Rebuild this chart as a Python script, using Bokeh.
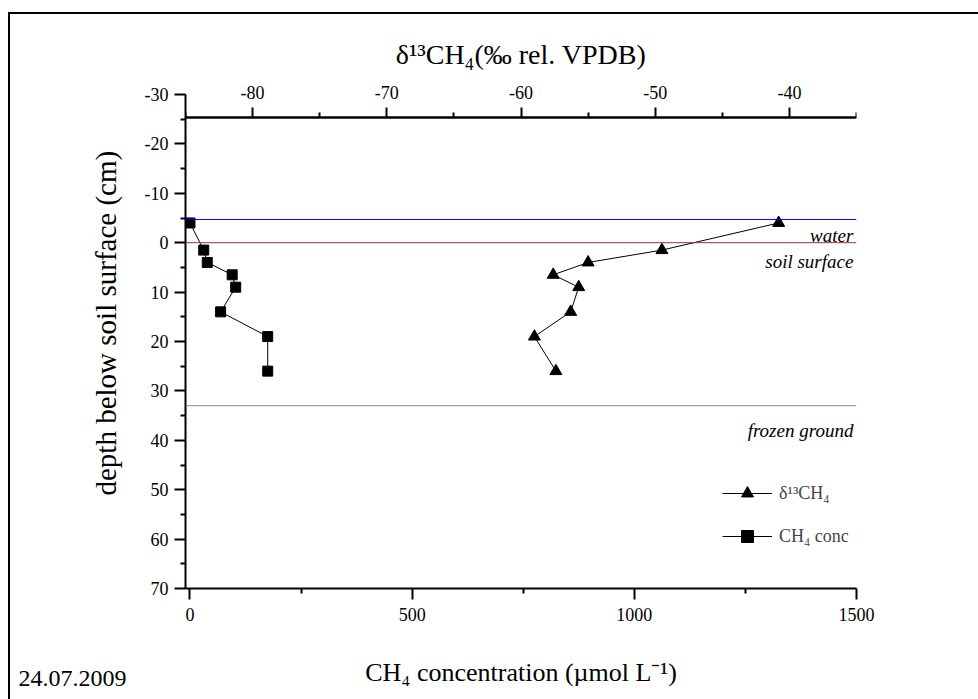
from bokeh.plotting import figure
from bokeh.models import (Range1d, LinearAxis, FixedTicker, Span, Label, Legend,
                          LegendItem, Title)
from bokeh.embed import file_html
from bokeh.resources import INLINE

# ---- data ----
depth_cm = [-4, 1.5, 4, 6.5, 9, 14, 19, 26]
ch4_conc = [0, 31, 39, 95, 103, 69, 175, 175]          # umol L-1
d13c_ch4 = [-40.8, -49.5, -55.0, -57.6, -55.7, -56.3, -59.0, -57.4]  # permil VPDB

water_level = -4.7
soil_surface = 0
frozen_ground = 33

conc_ticks = [0, 500, 1000, 1500]
conc_minor = [250, 750, 1250]
d13c_ticks = [-80, -70, -60, -50, -40]
d13c_minor = [-85, -75, -65, -55, -45, -35]
depth_ticks = [-30, -20, -10, 0, 10, 20, 30, 40, 50, 60, 70]
depth_minor = [-25, -15, -5, 5, 15, 25, 35, 45, 55, 65]

FONT = "Liberation Serif"
FONT_STACK = "'Liberation Serif', 'DejaVu Serif', serif"

p = figure(width=970, height=691, output_backend="svg", toolbar_location=None,
           x_range=Range1d(-10, 1500), y_range=Range1d(70, -30),
           min_border_left=185, min_border_right=114, min_border_top=94,
           min_border_bottom=103, background_fill_color="white",
           border_fill_color="white")
p.outline_line_color = None
p.xgrid.visible = False
p.ygrid.visible = False
p.extra_x_ranges = {"d13c": Range1d(-85, -35)}
p.stylesheets = [
    ":host { overflow: visible !important; }"
    ":host::after { content: ''; position: absolute; left: 8px; top: 12px;"
    " right: -8px; bottom: -8px; border-left: 2px solid #000;"
    " border-top: 2px solid #000; pointer-events: none; z-index: 10; }"
]


def style_axis(ax, major_out, minor_out):
    ax.axis_line_width = 2
    ax.axis_line_color = "black"
    ax.major_tick_line_width = 2
    ax.minor_tick_line_width = 2
    ax.major_tick_line_color = "black"
    ax.minor_tick_line_color = "black"
    ax.major_tick_out = major_out
    ax.major_tick_in = 0
    ax.minor_tick_out = minor_out
    ax.minor_tick_in = 0
    ax.major_label_text_font = FONT
    ax.major_label_text_font_size = "18px"
    ax.major_label_text_color = "black"
    ax.axis_label_text_font = FONT
    ax.axis_label_text_font_size = "26px"
    ax.axis_label_text_font_style = "normal"
    ax.axis_label_text_color = "black"


# bottom axis: CH4 concentration
xb = p.xaxis[0]
xb.ticker = FixedTicker(ticks=conc_ticks, minor_ticks=conc_minor)
style_axis(xb, 11, 5)
xb.major_label_standoff = 8
xb.axis_label = "CH₄ concentration (µmol L⁻¹)"
xb.axis_label_standoff = 34

# left axis: depth
yl = p.yaxis[0]
yl.ticker = FixedTicker(ticks=depth_ticks, minor_ticks=depth_minor)
style_axis(yl, 11, 5)
yl.major_label_standoff = 6
yl.major_label_overrides = {t: str(t) for t in depth_ticks}

# top axis: delta13C -- labels + title
top_labels = LinearAxis(x_range_name="d13c", ticker=FixedTicker(ticks=d13c_ticks),
                        axis_label="δ¹³CH₄(‰ rel. VPDB)")
style_axis(top_labels, 0, 0)
top_labels.axis_line_color = None
top_labels.major_tick_line_color = None
top_labels.minor_tick_line_color = None
top_labels.major_label_standoff = -4
top_labels.axis_label_standoff = 13
top_labels.axis_label_text_font = FONT_STACK
top_labels.axis_label_text_font_size = "28px"
top_labels.major_label_overrides = {t: str(t) for t in d13c_ticks}
p.add_layout(top_labels, "above")

# top axis rule and ticks, drawn a little below the frame top
AXIS_ROW = -25.3
top_major = LinearAxis(x_range_name="d13c", fixed_location=AXIS_ROW,
                       ticker=FixedTicker(ticks=[], minor_ticks=d13c_ticks))
style_axis(top_major, 0, 10)
p.add_layout(top_major, "above")
top_minor = LinearAxis(x_range_name="d13c", fixed_location=AXIS_ROW,
                       ticker=FixedTicker(ticks=[], minor_ticks=d13c_minor))
style_axis(top_minor, 0, 5)
p.add_layout(top_minor, "above")

# y axis title
p.add_layout(Title(text="depth below soil surface (cm)", align="left",
                   text_font=FONT, text_font_size="29px", text_font_style="normal",
                   text_color="black", standoff=40, offset=93), "left")

# date note in the bottom-left corner
p.add_layout(Title(text="24.07.2009", align="left", vertical_align="top",
                   text_font=FONT, text_font_size="24px", text_font_style="normal",
                   text_color="black", standoff=-37, offset=-167), "below")

# reference lines
p.add_layout(Span(location=water_level, dimension="width", line_color="#0000ff", line_width=1))
p.add_layout(Span(location=soil_surface, dimension="width", line_color="#993333", line_width=1))
p.add_layout(Span(location=frozen_ground, dimension="width", line_color="#8a8a8a", line_width=1))

for txt, yy in [("water", -1.5), ("soil surface", 3.9), ("frozen ground", 38.0)]:
    p.add_layout(Label(x=1493, y=yy, text=txt, text_align="right",
                       text_baseline="alphabetic", text_font=FONT,
                       text_font_size="19px", text_font_style="italic",
                       text_color="black"))

# series
tri_line = p.line(d13c_ch4, depth_cm, x_range_name="d13c", line_color="black", line_width=1)
tri_pts = p.scatter(d13c_ch4, depth_cm, x_range_name="d13c", marker="triangle",
                    size=12, fill_color="black", line_color="black")
sq_line = p.line(ch4_conc, depth_cm, line_color="black", line_width=1)
sq_pts = p.scatter(ch4_conc, depth_cm, marker="square", size=10,
                   fill_color="black", line_color="black")

legend = Legend(items=[LegendItem(label="δ¹³CH₄", renderers=[tri_line, tri_pts]),
                       LegendItem(label="CH₄ conc", renderers=[sq_line, sq_pts])],
                location=(537, 37), padding=0, spacing=13, glyph_width=50,
                glyph_height=30, label_height=30, label_standoff=7,
                label_text_font=FONT, label_text_font_size="18px",
                border_line_alpha=0, background_fill_alpha=0)
p.add_layout(legend)

open("out.html", "w").write(file_html(p, INLINE))
